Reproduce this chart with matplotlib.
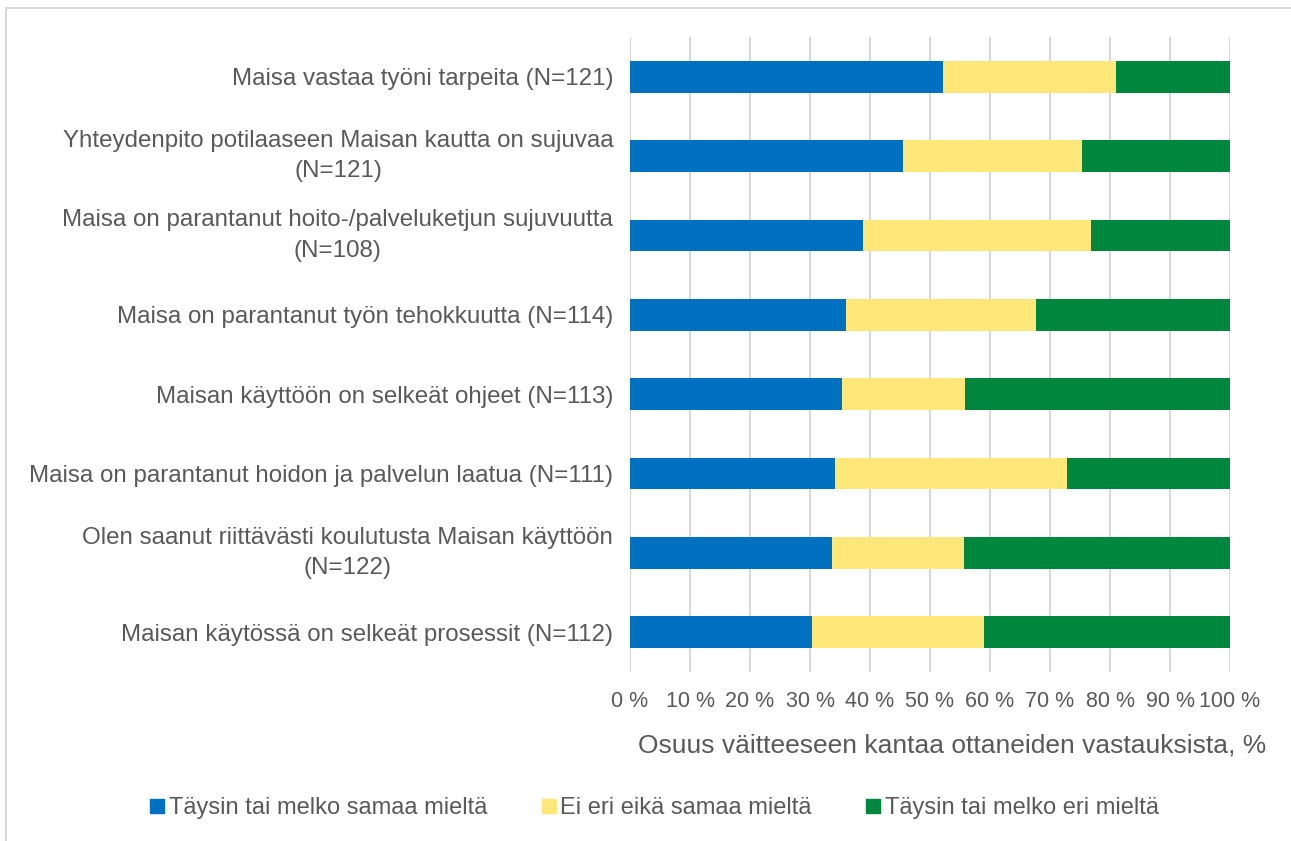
import numpy as np
import matplotlib
matplotlib.use("Agg")
import matplotlib.pyplot as plt
from matplotlib.lines import Line2D

plt.rcParams["font.family"] = ["Liberation Sans", "DejaVu Sans"]

# statements, top to bottom
LABELS = [
    "Maisa vastaa työni tarpeita (N=121)",
    "Yhteydenpito potilaaseen Maisan kautta on sujuvaa\n(N=121)",
    "Maisa on parantanut hoito-/palveluketjun sujuvuutta\n(N=108)",
    "Maisa on parantanut työn tehokkuutta (N=114)",
    "Maisan käyttöön on selkeät ohjeet (N=113)",
    "Maisa on parantanut hoidon ja palvelun laatua (N=111)",
    "Olen saanut riittävästi koulutusta Maisan käyttöön\n(N=122)",
    "Maisan käytössä on selkeät prosessit (N=112)",
]
AGREE = [52.1, 45.5, 38.9, 36.0, 35.4, 34.2, 33.6, 30.4]
NEUTRAL = [28.9, 29.8, 38.0, 31.6, 20.4, 38.7, 22.1, 28.6]
DISAGREE = [19.0, 24.7, 23.1, 32.4, 44.2, 27.1, 44.3, 41.0]
SERIES = ["Täysin tai melko samaa mieltä", "Ei eri eikä samaa mieltä",
          "Täysin tai melko eri mieltä"]
COLORS = ["#0070c0", "#ffe779", "#00873e"]
XTICKS = np.arange(0, 101, 10)

TXT = "#595959"
GRID = "#d9d9d9"
FS = 17

fig = plt.figure(figsize=(12.91, 8.41), dpi=100)
ax = fig.add_axes([630 / 1291, 1 - 672 / 841, 600 / 1291, 635 / 841])

y = np.arange(len(LABELS))
left = np.zeros(len(LABELS))
for vals, color, name in zip([AGREE, NEUTRAL, DISAGREE], COLORS, SERIES):
    ax.barh(y, vals, left=left, height=0.4, color=color, label=name, zorder=3)
    left = left + np.array(vals)

ax.set_ylim(len(LABELS) - 0.5, -0.5)
ax.set_xlim(0, 100)
ax.set_yticks(y)
ax.set_yticklabels(LABELS, fontsize=17.4, color=TXT, ha="right",
                   multialignment="center", linespacing=1.5)
for t in ax.get_yticklabels():
    if "\n" in t.get_text():
        t.set_va("center")
ax.set_xticks(XTICKS)
ax.set_xticklabels([f"{v} %" for v in XTICKS], fontsize=15.5, color=TXT)
ax.tick_params(axis="y", length=0, pad=12)
ax.tick_params(axis="x", length=0, pad=14)
ax.grid(axis="x", color=GRID, lw=1.5, zorder=0)
for s in ax.spines.values():
    s.set_visible(False)
ax.set_xlabel("Osuus väitteeseen kantaa ottaneiden vastauksista, %",
              fontsize=19, color=TXT, labelpad=15, x=0.537)

handles = [Line2D([], [], marker="s", ls="none", markersize=9.4, color=c)
           for c in COLORS]
fig.legend(handles, SERIES, loc="center", bbox_to_anchor=(0.506, 1 - 808 / 841),
           ncol=3, frameon=False, fontsize=FS, labelcolor=TXT,
           handlelength=0.8, handletextpad=0.1, columnspacing=2.2)

# chart-area border (top and left edges visible in the crop)
fig.add_artist(Line2D([6 / 1291, 6 / 1291], [0, 1 - 8 / 841],
                      transform=fig.transFigure, color=GRID, lw=1.5))
fig.add_artist(Line2D([6 / 1291, 1], [1 - 8 / 841, 1 - 8 / 841],
                      transform=fig.transFigure, color=GRID, lw=1.5))

fig.savefig("out.png", dpi=100)
